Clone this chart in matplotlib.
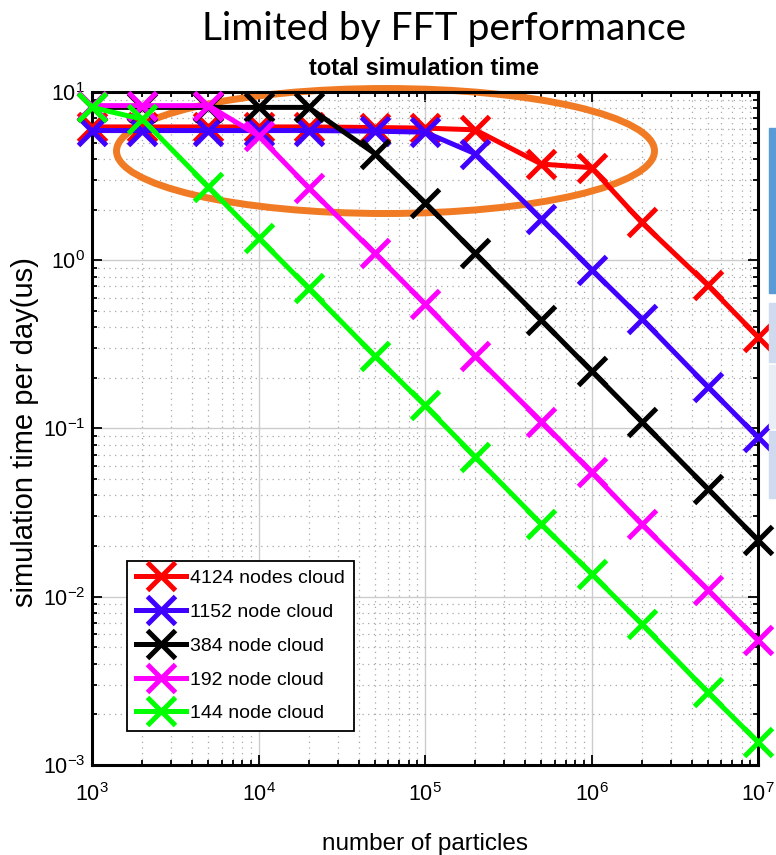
import matplotlib
matplotlib.use('Agg')
import matplotlib.pyplot as plt
from matplotlib import font_manager
from matplotlib.patches import Ellipse, Rectangle
from matplotlib.ticker import LogLocator, NullFormatter

# fonts: narrow sans if present, else Liberation Sans
available = {f.name for f in font_manager.fontManager.ttflist}
narrow = 'Liberation Sans Narrow' if 'Liberation Sans Narrow' in available else 'Liberation Sans'
plt.rcParams['font.family'] = [narrow, 'DejaVu Sans']
plt.rcParams['mathtext.fontset'] = 'custom'
plt.rcParams['mathtext.rm'] = narrow
plt.rcParams['mathtext.it'] = narrow
plt.rcParams['mathtext.bf'] = narrow + ':bold'

# data
n_particles = [1e3, 2e3, 5e3, 1e4, 2e4, 5e4, 1e5, 2e5, 5e5, 1e6, 2e6, 5e6, 1e7]
time_4124 = [6.2, 6.2, 6.2, 6.2, 6.2, 6.15, 6.1, 5.96, 3.73, 3.55, 1.68, 0.71, 0.35]
time_1152 = [5.9, 5.9, 5.9, 5.9, 5.9, 5.85, 5.77, 4.3, 1.76, 0.88, 0.45, 0.177, 0.0886]
time_384 = [8.1, 8.1, 8.1, 8.1, 8.1, 4.3, 2.2, 1.1, 0.44, 0.22, 0.11, 0.0438, 0.0217]
time_192 = [8.3, 8.3, 8.3, 5.5, 2.7, 1.1, 0.55, 0.27, 0.11, 0.055, 0.027, 0.011, 0.0055]
time_144 = [8.1, 6.9, 2.73, 1.36, 0.68, 0.27, 0.137, 0.068, 0.027, 0.0137, 0.0069, 0.0027, 0.00137]

series = [
    ('4124 nodes cloud', time_4124, '#ff0000'),
    ('1152 node cloud', time_1152, '#4000ff'),
    ('384 node cloud', time_384, '#000000'),
    ('192 node cloud', time_192, '#ff00ff'),
    ('144 node cloud', time_144, '#00ff00'),
]

W, H = 776, 855
fig = plt.figure(figsize=(W / 100, H / 100), dpi=100)
ax = fig.add_axes([92 / W, 1 - 765 / H, 666 / W, 673 / H])

for label, vals, col in series:
    ax.plot(n_particles, vals, color=col, lw=3.6, marker='x', ms=20, mew=3.6,
            label=label, clip_on=False, zorder=3)

ax.set_xscale('log')
ax.set_yscale('log')
ax.set_xlim(1e3, 1e7)
ax.set_ylim(1e-3, 1e1)

ax.xaxis.set_major_locator(LogLocator(base=10, numticks=10))
ax.yaxis.set_major_locator(LogLocator(base=10, numticks=10))
for axis in (ax.xaxis, ax.yaxis):
    axis.set_minor_locator(LogLocator(base=10, subs=range(2, 10), numticks=20))
    axis.set_minor_formatter(NullFormatter())

ax.grid(True, which='major', color='#cccccc', lw=1.0, ls='-', zorder=0)
ax.grid(True, which='minor', color='#a8a8a8', lw=0.9, ls=(0, (1, 3.5)), zorder=0)
ax.set_axisbelow(True)

ax.tick_params(which='both', direction='in', top=True, right=True, width=1.3)
ax.tick_params(which='major', length=7)
ax.tick_params(which='minor', length=3.5)
ax.tick_params(axis='x', labelsize=15.5, pad=13)
ax.tick_params(axis='y', labelsize=15.5, pad=5)
for sp in ax.spines.values():
    sp.set_linewidth(2.2)

leg = ax.legend(loc='lower left', bbox_to_anchor=(35 / 666, 34 / 673),
                borderaxespad=0, fontsize=14, numpoints=1, handlelength=2.6,
                handletextpad=0.2, labelspacing=0.83, borderpad=0.45,
                fancybox=False, framealpha=1, edgecolor='black')
leg.get_frame().set_linewidth(1.3)

# orange ellipse around the flat FFT-limited region
ring = Ellipse((385.5 / W, 1 - 151 / H), 538 / W, 125 / H, transform=fig.transFigure,
               fill=False, ec='#f07b24', lw=5, clip_on=False, zorder=2)
ax.add_patch(ring)

# slide boxes at the right edge
fig.patches.append(Rectangle((769 / W, 1 - 293 / H), 7 / W, 165 / H,
                             transform=fig.transFigure, color='#5b9bd5'))
for y0, y1, c in [(303, 362, '#cfdaee'), (365, 428, '#e8edf6'), (431, 498, '#cfdaee')]:
    fig.patches.append(Rectangle((769 / W, 1 - y1 / H), 7 / W, (y1 - y0) / H,
                                 transform=fig.transFigure, color=c))

fig.text(444 / W, 1 - 40 / H, 'Limited by FFT performance', ha='center', va='baseline',
         fontsize=28, family=['Lato', 'DejaVu Sans'])
fig.text(424 / W, 1 - 75 / H, 'total simulation time', ha='center', va='baseline',
         fontsize=17, fontweight='bold', family=['Liberation Sans', 'DejaVu Sans'])
fig.text(425 / W, 1 - 850 / H, 'number of particles', ha='center', va='baseline',
         fontsize=17.5)
fig.text(25 / W, 1 - 432 / H, 'simulation time per day(us)', ha='center', va='center',
         rotation=90, fontsize=21, family=['Liberation Sans', 'DejaVu Sans'])

fig.savefig('out.png', dpi=100)
